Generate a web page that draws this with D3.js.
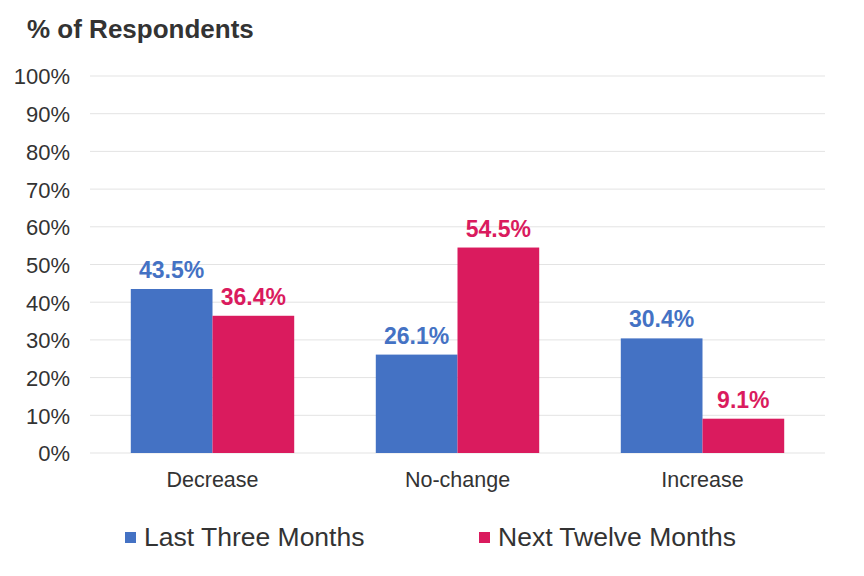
<!DOCTYPE html>
<html><head><meta charset="utf-8">
<script src="https://cdn.jsdelivr.net/npm/d3@7"></script>
<style>body{margin:0;background:#fff;}svg{display:block;font-family:"Liberation Sans",Arial,sans-serif;}</style>
</head><body><svg id="c" width="864" height="576"></svg>
<script>
const categories = ["Decrease", "No-change", "Increase"];
const seriesNames = ["Last Three Months", "Next Twelve Months"];
const lastThree = [43.5, 26.1, 30.4];
const nextTwelve = [36.4, 54.5, 9.1];
const yTicks = [0,10,20,30,40,50,60,70,80,90,100];
const colors = ["#4472C4", "#DA1B5E"];

const svg = d3.select("#c");
const pLeft = 90, pRight = 825, pTop = 76, pBottom = 453;
const x = d3.scaleBand().domain(categories).range([pLeft, pRight]).paddingInner(0.333).paddingOuter(0.1665);
const xs = d3.scaleBand().domain(seriesNames).range([0, x.bandwidth()]);
const y = d3.scaleLinear().domain([0,100]).range([pBottom, pTop]);

// grid
svg.append("g").selectAll("line").data(yTicks).join("line")
  .attr("x1", pLeft).attr("x2", pRight)
  .attr("y1", d=>y(d)).attr("y2", d=>y(d))
  .attr("stroke", "#e3e3e3").attr("stroke-width", 1);

// y axis labels
const yAxis = d3.axisLeft(y).tickValues(yTicks).tickFormat(d=>d+"%").tickSize(0).tickPadding(0);
const ga = svg.append("g").attr("transform", `translate(70,0)`).call(yAxis);
ga.select(".domain").remove();
ga.selectAll("text").attr("font-size", 22).attr("fill", "#333").attr("font-family", "Liberation Sans, Arial, sans-serif").attr("dy", "0.36em");

// x axis labels
const xAxis = d3.axisBottom(x).tickSize(0).tickPadding(0);
const gx = svg.append("g").attr("transform", `translate(0,${pBottom+34})`).call(xAxis);
gx.select(".domain").remove();
gx.selectAll("text").attr("font-size", 21.5).attr("fill", "#333").attr("font-family", "Liberation Sans, Arial, sans-serif").attr("y", 0).attr("dy", "0");

const data = categories.map((c,i)=>({cat:c, vals:[lastThree[i], nextTwelve[i]]}));
const groups = svg.append("g").selectAll("g").data(data).join("g")
  .attr("transform", d=>`translate(${x(d.cat)},0)`);
groups.selectAll("rect").data(d=>d.vals.map((v,j)=>({s:seriesNames[j], v, j}))).join("rect")
  .attr("x", d=>xs(d.s)).attr("width", xs.bandwidth())
  .attr("y", d=>y(d.v)).attr("height", d=>y(0)-y(d.v))
  .attr("fill", d=>colors[d.j]);
groups.selectAll("text").data(d=>d.vals.map((v,j)=>({s:seriesNames[j], v, j}))).join("text")
  .attr("x", d=>xs(d.s)+xs.bandwidth()/2).attr("y", d=>y(d.v)-11)
  .attr("text-anchor", "middle").attr("font-size", 23).attr("font-weight", "bold")
  .attr("fill", d=>colors[d.j]).text(d=>d.v.toFixed(1)+"%");

// title
svg.append("text").attr("x", 27).attr("y", 38).attr("font-size", 26).attr("font-weight", "bold")
  .attr("fill", "#333").text("% of Respondents");

// legend
const legX = [125, 479];
const lg = svg.append("g").selectAll("g").data(seriesNames).join("g")
  .attr("transform", (d,i)=>`translate(${legX[i]},546)`);
lg.append("rect").attr("x", 0).attr("y", -14).attr("width", 11).attr("height", 11).attr("fill", (d,i)=>colors[i]);
lg.append("text").attr("x", 19).attr("y", 0).attr("font-size", 26.5).attr("fill", "#333").text(d=>d);
</script></body></html>
